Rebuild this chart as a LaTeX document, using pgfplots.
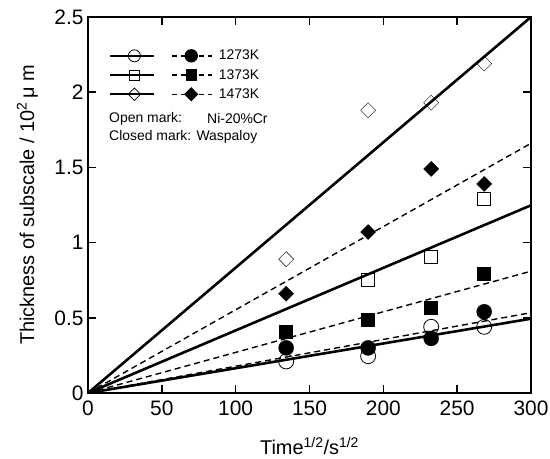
\documentclass[border=0pt]{standalone}
\usepackage{fontspec}
\setmainfont{Liberation Sans}
\usepackage{pgfplots}
\pgfplotsset{compat=1.18}

\pgfplotsset{
  openmk/.style={only marks, mark options={solid, line width=0.8pt, fill=none}},
  closedmk/.style={only marks, mark options={solid, fill=black}},
  solidfit/.style={no marks, line width=2.6pt},
  dashfit/.style={no marks, line width=1.4pt, dash pattern=on 6bp off 4bp},
  solidleg/.style={legend image code/.code={%
    \draw[mark repeat=2,mark phase=2,##1] plot coordinates {(0bp,0bp) (24bp,0bp) (44bp,0bp)};}},
  dashleg/.style={legend image code/.code={%
    \draw[mark repeat=2,mark phase=2,##1] plot coordinates {(0bp,0bp) (19bp,0bp) (40bp,0bp)};}},
}

\begin{document}
\begin{tikzpicture}
\begin{axis}[
  scale only axis,
  width=443bp, height=376bp,
  xmin=0, xmax=300, ymin=0, ymax=2.5,
  xtick={0,50,100,150,200,250,300},
  ytick={0,0.5,1,1.5,2,2.5},
  tick align=inside,
  major tick length=8bp,
  axis line style={line width=2pt},
  tick style={line width=1.5pt, black},
  ticklabel style={font=\fontsize{21}{24}\selectfont},
  xticklabel style={yshift=-4bp},
  yticklabel style={xshift=-1bp},
  /pgf/number format/assume math mode=true,
  xlabel={Time\textsuperscript{1/2}/s\textsuperscript{1/2}},
  ylabel={Thickness of subscale / 10\textsuperscript{2}\,μ m},
  label style={font=\fontsize{20}{24}\selectfont},
  xlabel style={at={(axis description cs:0.5,-0.141)}, anchor=center},
  ylabel style={at={(axis description cs:-0.137,0.5)}, anchor=center},
  legend columns=2,
  legend style={at={(rel axis cs:0,1)}, anchor=north west, xshift=21bp, yshift=-31bp,
    draw=none, fill=none, font=\fontsize{14}{16}\selectfont,
    row sep=4bp, inner sep=0pt,
    /tikz/column 2/.style={column sep=12bp},
    /tikz/column 3/.style={column sep=4bp}},
  legend cell align=left,
]
% legend images
\addlegendimage{solidleg, line width=2.4pt, mark=o, mark size=6bp, mark options={solid, line width=0.8pt}}
\addlegendentry{}
\addlegendimage{dashleg, line width=1.4pt, dash pattern=on 5bp off 4bp, mark=*, mark size=6bp, mark options={solid, fill=black}}
\addlegendentry{1273K}
\addlegendimage{solidleg, line width=2.4pt, mark=square, mark size=5bp, mark options={solid, line width=0.8pt}}
\addlegendentry{}
\addlegendimage{dashleg, line width=1.4pt, dash pattern=on 5bp off 4bp, mark=square*, mark size=5bp, mark options={solid, fill=black}}
\addlegendentry{1373K}
\addlegendimage{solidleg, line width=2.4pt, mark=square, mark size=4.4bp, mark options={solid, line width=0.8pt, rotate=45}}
\addlegendentry{}
\addlegendimage{dashleg, line width=1.4pt, dash pattern=on 5bp off 4bp, mark=square*, mark size=4.4bp, mark options={solid, fill=black, rotate=45}}
\addlegendentry{1473K}

% fitted lines
\addplot[solidfit, forget plot] coordinates {(0,0) (300,0.494)};
\addplot[solidfit, forget plot] coordinates {(0,0) (300,1.248)};
\addplot[solidfit, forget plot] coordinates {(0,0) (300,2.5)};
\addplot[dashfit, forget plot] coordinates {(0,0) (300,0.534)};
\addplot[dashfit, forget plot] coordinates {(0,0) (300,0.81)};
\addplot[dashfit, forget plot] coordinates {(0,0) (300,1.66)};

% Ni-20%Cr (open marks)
\addplot[openmk, forget plot, mark=o, mark size=7.5bp] coordinates {
  (134.2,0.21) (189.7,0.245) (232.4,0.44) (268.3,0.44)};
\addplot[openmk, forget plot, mark=square, mark size=6.5bp] coordinates {
  (189.7,0.75) (232.4,0.907) (268.3,1.29)};
\addplot[openmk, forget plot, mark=square, mark size=5.3bp, mark options={rotate=45}] coordinates {
  (134.2,0.89) (189.7,1.88) (232.4,1.93) (268.3,2.19)};

% Waspaloy (closed marks)
\addplot[closedmk, forget plot, mark=*, mark size=7.5bp] coordinates {
  (134.2,0.30) (189.7,0.30) (232.4,0.363) (268.3,0.54)};
\addplot[closedmk, forget plot, mark=square*, mark size=6.5bp] coordinates {
  (134.2,0.41) (189.7,0.49) (232.4,0.567) (268.3,0.79)};
\addplot[closedmk, forget plot, mark=square*, mark size=5.3bp, mark options={rotate=45}] coordinates {
  (134.2,0.66) (189.7,1.07) (232.4,1.49) (268.3,1.39)};

\node[anchor=west, font=\fontsize{14}{16}\selectfont, inner sep=0pt, xshift=21bp, yshift=-102bp]
  at (rel axis cs:0,1) {Open mark:};
\node[anchor=west, font=\fontsize{14}{16}\selectfont, inner sep=0pt, xshift=119bp, yshift=-102bp]
  at (rel axis cs:0,1) {Ni-20\%Cr};
\node[anchor=west, font=\fontsize{14}{16}\selectfont, inner sep=0pt, xshift=21bp, yshift=-120bp]
  at (rel axis cs:0,1) {Closed mark: Waspaloy};
\end{axis}
\pgfresetboundingbox
\path[use as bounding box] ([shift={(-88bp,-66bp)}]current axis.south west) rectangle ++(550bp,459bp);
\end{tikzpicture}
\end{document}
